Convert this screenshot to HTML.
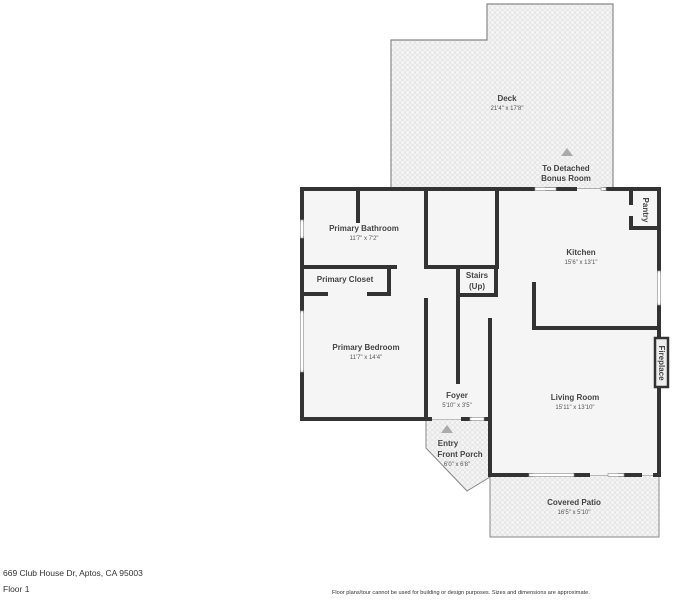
<!DOCTYPE html>
<html><head><meta charset="utf-8"><style>
body{margin:0;background:#fff;}
svg{display:block;font-family:"Liberation Sans",sans-serif;}
.t{font-size:8px;fill:#444;font-weight:bold;text-anchor:middle}
.d{font-size:6px;fill:#555;text-anchor:middle}
</style></head><body>
<svg width="683" height="600" viewBox="0 0 683 600">
<defs>
<pattern id="p" width="5" height="5" patternUnits="userSpaceOnUse">
<rect width="5" height="5" fill="#f4f4f4"/><circle cx="2.5" cy="2.5" r="2" fill="none" stroke="#ddd" stroke-width="0.6"/>
</pattern>
</defs>
<!-- deck -->
<path d="M391 189 V40 H487 V4 H613 V189 Z" fill="url(#p)" stroke="#888" stroke-width="1.2"/>
<!-- patio -->
<path d="M490 475 H659 V537 H490 Z" fill="url(#p)" stroke="#888" stroke-width="1"/>
<!-- porch -->
<path d="M426 419 H490 V477 L467 491 L426 448 Z" fill="url(#p)" stroke="#888" stroke-width="1"/>
<!-- interior -->
<path d="M302 189 H659 V475 H490 V419 H302 Z" fill="#f5f5f5"/>
<g stroke="#333" stroke-width="4" fill="none" stroke-linecap="square">
<!-- outer -->
<path d="M302 189 H533 M547 189 H575 M605 189 H659 V271 M659 305 V475 H655 M640 475 H620 M575 475 H588 M531 475 H490 V320"/>
<path d="M302 189 V220 M302 238 V311 M302 372 V419 H426 V300"/>
<path d="M426 419 H430 M463 419 H470 M486 419 H490"/>
<path d="M426 189 V267 H497 V189"/>
<path d="M358 189 V221"/>
<path d="M302 267 H395 M426 267 H426"/>
<path d="M389 267 V294 H369 M302 294 H326"/>
<path d="M458 267 V382 M458 295 H496 V267"/>
<path d="M534 284 V328 H659"/>
<path d="M631 192 V203 M631 218 V228 H659"/>
</g>
<!-- windows -->
<g fill="#fff" stroke="#999" stroke-width="0.7">
<rect x="535" y="187.5" width="21" height="3"/><rect x="601" y="187.5" width="5" height="3"/>
<rect x="300.5" y="220" width="3" height="18"/><rect x="300.5" y="311" width="3" height="61"/>
<rect x="657.5" y="271" width="3" height="34"/>
<rect x="529" y="473.5" width="45" height="3"/><rect x="608" y="473.5" width="16" height="3"/>
<rect x="470" y="417.5" width="14" height="3"/>
</g>
<!-- fireplace -->
<rect x="655" y="338" width="13" height="49" fill="#eee" stroke="#333" stroke-width="2.5"/>
<text x="0" y="0" transform="translate(659,363) rotate(90)" style="font-size:8px;fill:#444;font-weight:bold;text-anchor:middle">Fireplace</text>
<text x="0" y="0" transform="translate(643,210) rotate(90)" style="font-size:8px;fill:#444;font-weight:bold;text-anchor:middle">Pantry</text>
<!-- triangles -->
<polygon points="567,148 573,156 561,156" fill="#aaa"/>
<polygon points="447,425 453,433 441,433" fill="#aaa"/>
<text class="t" x="507" y="101">Deck</text><text class="d" x="507" y="110">21'4" x 17'8"</text>
<text class="t" x="566" y="171">To Detached</text><text class="t" x="566" y="181">Bonus Room</text>
<text class="t" x="364" y="231">Primary Bathroom</text><text class="d" x="364" y="240">11'7" x 7'2"</text>
<text class="t" x="345" y="282">Primary Closet</text>
<text class="t" x="477" y="278">Stairs</text><text class="t" x="477" y="289">(Up)</text>
<text class="t" x="581" y="255">Kitchen</text><text class="d" x="581" y="264">15'6" x 13'1"</text>
<text class="t" x="366" y="350">Primary Bedroom</text><text class="d" x="366" y="359">11'7" x 14'4"</text>
<text class="t" x="457" y="398">Foyer</text><text class="d" x="457" y="407">5'10" x 3'5"</text>
<text class="t" x="575" y="400">Living Room</text><text class="d" x="575" y="409">15'11" x 13'10"</text>
<text class="t" x="448" y="446">Entry</text><text class="t" x="460" y="457">Front Porch</text><text class="d" x="457" y="466">6'0" x 6'8"</text>
<text class="t" x="574" y="505">Covered Patio</text><text class="d" x="574" y="514">16'5" x 5'10"</text>
<text x="3" y="576" style="font-size:8.5px;fill:#333">669 Club House Dr, Aptos, CA 95003</text>
<text x="3" y="592" style="font-size:8.5px;fill:#333">Floor 1</text>
<text x="332" y="594" style="font-size:5.6px;fill:#333">Floor plans/tour cannot be used for building or design purposes. Sizes and dimensions are approximate.</text>
</svg>
</body></html>
